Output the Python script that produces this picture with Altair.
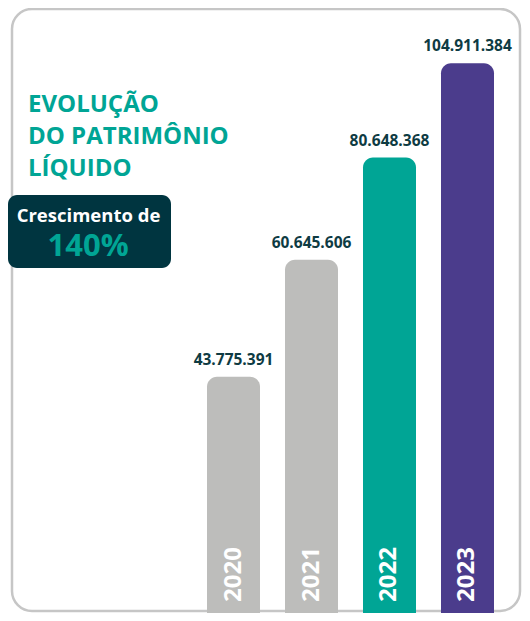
import altair as alt
import pandas as pd

years = ["2020", "2021", "2022", "2023"]
values = [43775391, 60645606, 80648368, 104911384]
title_lines = ["EVOLUÇÃO", "DO PATRIMÔNIO", "LÍQUIDO"]
badge_caption = "Crescimento de"
badge_value = "140%"

bar_colors = ["#BDBDBB", "#BDBDBB", "#00A595", "#4B3C8C"]

labels = [f"{v:,}".replace(",", ".") for v in values]
df = pd.DataFrame({"year": years, "value": values, "label": labels})
one = pd.DataFrame({"k": [0]})

FONT = "Open Sans"
W, H = 514, 605
Y_LO, Y_HI = 22650000, 122400000

x = alt.X("year:N", axis=None,
          scale=alt.Scale(domain=years, range=[199, 486], paddingInner=0.3205, paddingOuter=0))
y = alt.Y("value:Q", axis=None,
          scale=alt.Scale(type="log", domain=[Y_LO, Y_HI], range=[H, 0]))
color = alt.Color("year:N", legend=None, scale=alt.Scale(domain=years, range=bar_colors))

frame = alt.Chart(one).mark_rect(
    fill="white", stroke="#C6C6C6", strokeWidth=2.5, cornerRadius=20
).encode(x=alt.value(4), x2=alt.value(512), y=alt.value(1), y2=alt.value(603))

bars = alt.Chart(df).mark_bar(cornerRadiusTopLeft=10, cornerRadiusTopRight=10).encode(
    x=x, y=y, y2=alt.datum(Y_LO), color=color
)

vals = alt.Chart(df).mark_text(
    font=FONT, fontWeight="bold", fontSize=15.5, color="#0E3B43",
    baseline="alphabetic", align="center", dy=-12
).encode(x=x, y=y, text="label:N")

yrs = alt.Chart(df).mark_text(
    font=FONT, fontWeight="bold", fontSize=24, color="white",
    angle=270, align="left", baseline="middle"
).encode(x=x, y=alt.value(594), text="year:N")

title = alt.Chart(one).mark_text(
    font=FONT, fontWeight="bold", fontSize=24, color="#00A595",
    align="left", baseline="alphabetic", lineHeight=32
).encode(x=alt.value(20), y=alt.value(104), text=alt.value(title_lines))

badge = alt.Chart(one).mark_rect(fill="#003540", cornerRadius=9).encode(
    x=alt.value(0), x2=alt.value(163), y=alt.value(187), y2=alt.value(260)
)
badge_t1 = alt.Chart(one).mark_text(
    font=FONT, fontWeight="bold", fontSize=18.5, color="white",
    align="center", baseline="alphabetic"
).encode(x=alt.value(80.5), y=alt.value(213.5), text=alt.value(badge_caption))
badge_t2 = alt.Chart(one).mark_text(
    font=FONT, fontWeight="bold", fontSize=31, color="#00A595",
    align="center", baseline="alphabetic"
).encode(x=alt.value(80), y=alt.value(247.5), text=alt.value(badge_value))

chart = alt.layer(frame, bars, vals, yrs, title, badge, badge_t1, badge_t2).properties(
    width=W, height=H, padding=0, autosize=alt.AutoSizeParams(type="none"),
    background="white"
).configure_view(stroke=None)

chart.save("out.html", embed_options={"renderer": "svg", "actions": False})
